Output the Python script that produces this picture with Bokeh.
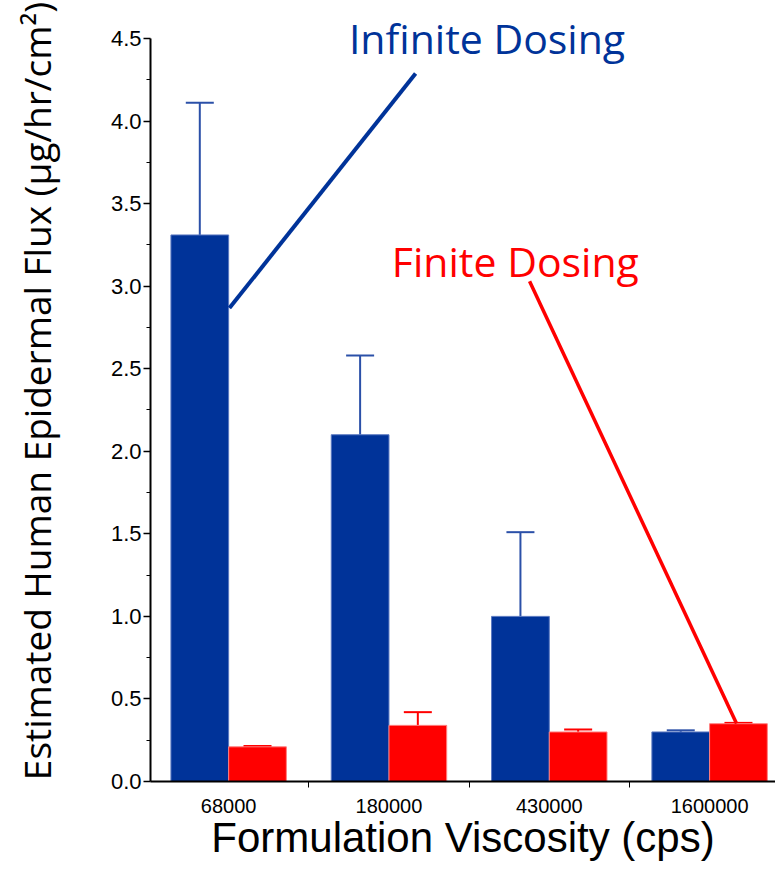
import math
from bokeh.plotting import figure
from bokeh.models import (Range1d, FixedTicker, NumeralTickFormatter,
                          Label, Whisker, TeeHead, ColumnDataSource)
from bokeh.embed import file_html
from bokeh.resources import INLINE

# ---- data ----
categories = ["68000", "180000", "430000", "1600000"]
infinite_flux = [3.31, 2.10, 1.00, 0.30]
infinite_err = [0.80, 0.48, 0.51, 0.01]
finite_flux = [0.21, 0.34, 0.30, 0.35]
finite_err = [0.005, 0.08, 0.015, 0.005]
y_ticks_major = [0.0, 0.5, 1.0, 1.5, 2.0, 2.5, 3.0, 3.5, 4.0, 4.5]

BLUE = "#003399"
BLUE_ERR = "#2B50A8"
RED = "#FF0000"

centers = [i + 0.5 for i in range(len(categories))]
off = 0.18
bw = 0.36

inf_src = ColumnDataSource(dict(
    x=[c - off for c in centers], top=infinite_flux,
    upper=[v + e for v, e in zip(infinite_flux, infinite_err)]))
fin_src = ColumnDataSource(dict(
    x=[c + off for c in centers], top=finite_flux,
    upper=[v + e for v, e in zip(finite_flux, finite_err)]))

p = figure(width=775, height=863, output_backend="svg", toolbar_location=None,
           x_range=Range1d(0.0125, 3.911), y_range=Range1d(0, 4.73),
           min_border_left=150, min_border_right=0, min_border_top=0, min_border_bottom=81)
p.outline_line_color = None
p.xgrid.visible = False
p.ygrid.visible = False
p.background_fill_color = "white"
p.border_fill_color = "white"

p.vbar(x="x", top="top", bottom=0, width=bw, source=inf_src,
       fill_color=BLUE, line_color="#5a78c0", line_width=1)
p.vbar(x="x", top="top", bottom=0, width=bw, source=fin_src,
       fill_color=RED, line_color="#ff8080", line_width=1)

p.add_layout(Whisker(base="x", lower="top", upper="upper", source=inf_src, dimension="height",
                     line_color=BLUE_ERR, line_width=2, lower_head=None,
                     upper_head=TeeHead(size=28, line_color=BLUE_ERR, line_width=2)))
p.add_layout(Whisker(base="x", lower="top", upper="upper", source=fin_src, dimension="height",
                     line_color=RED, line_width=2, lower_head=None,
                     upper_head=TeeHead(size=28, line_color=RED, line_width=2)))

# leader lines (annotation positions in data space)
p.segment(x0=[1.666], y0=[4.288], x1=[0.505], y1=[2.867], line_color=BLUE, line_width=4)
p.segment(x0=[2.377], y0=[3.030], x1=[3.668], y1=[0.351], line_color=RED, line_width=3.5)

# axes
xa = p.xaxis[0]
xa.ticker = FixedTicker(ticks=centers, minor_ticks=[1, 2, 3])
xa.major_label_overrides = {c: lab for c, lab in zip(centers, categories)}
xa.major_tick_out = 0
xa.major_tick_in = 0
xa.minor_tick_out = 6
xa.minor_tick_in = 0
xa.minor_tick_line_color = "black"
xa.axis_line_color = "black"
xa.axis_line_width = 2
xa.major_label_text_font = "Liberation Sans"
xa.major_label_text_font_size = "20px"
xa.major_label_text_color = "black"
xa.major_label_standoff = 11
xa.axis_label = "Formulation Viscosity (cps)"
xa.axis_label_text_font = "Liberation Sans"
xa.axis_label_text_font_size = "42px"
xa.axis_label_text_font_style = "normal"
xa.axis_label_text_color = "black"
xa.axis_label_standoff = -2

ya = p.yaxis[0]
ya.bounds = (0, 4.5)
ya.ticker = FixedTicker(ticks=y_ticks_major,
                        minor_ticks=[t + 0.25 for t in y_ticks_major[:-1]])
ya.formatter = NumeralTickFormatter(format="0.0")
ya.major_tick_out = 7
ya.major_tick_in = 0
ya.minor_tick_out = 4
ya.minor_tick_in = 0
ya.major_tick_line_color = "black"
ya.minor_tick_line_color = "black"
ya.axis_line_color = "black"
ya.axis_line_width = 2
ya.major_tick_line_width = 1.5
ya.major_label_text_font = "Liberation Sans"
ya.major_label_text_font_size = "22px"
ya.major_label_text_color = "black"
ya.major_label_standoff = 2
ya.axis_label = "Estimated Human Epidermal Flux (µg/hr/cm²)"
ya.axis_label_text_font = "Open Sans"
ya.axis_label_text_font_size = "37px"
ya.axis_label_text_font_style = "normal"
ya.axis_label_text_color = "black"
ya.axis_label_standoff = 46

# annotations
p.add_layout(Label(x=1.25, y=4.5, text="Infinite Dosing",
                   text_align="left", text_baseline="alphabetic",
                   text_font="Open Sans", text_font_size="41px", text_color=BLUE))
p.add_layout(Label(x=1.518, y=3.151, text="Finite Dosing",
                   text_align="left", text_baseline="alphabetic",
                   text_font="Open Sans", text_font_size="41px", text_color=RED))

open("out.html", "w").write(file_html(p, INLINE))
